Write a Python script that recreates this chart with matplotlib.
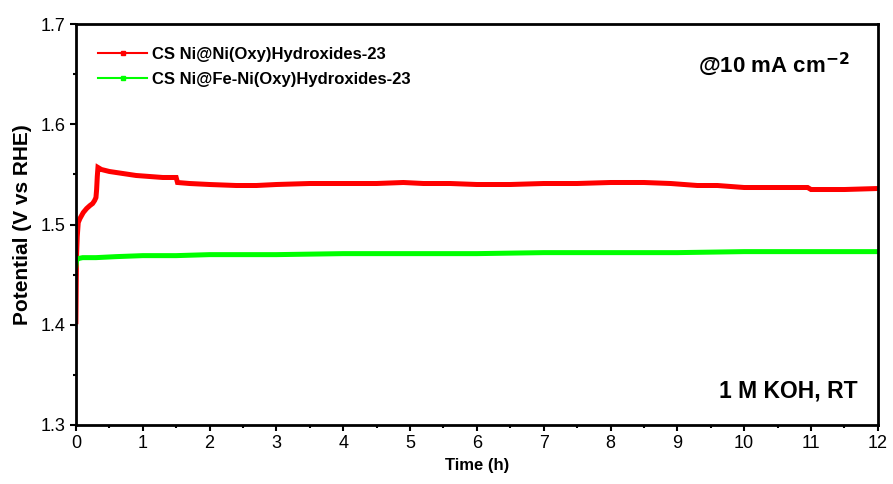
import matplotlib.pyplot as plt
from matplotlib.lines import Line2D
from matplotlib.ticker import MultipleLocator

plt.rcParams["font.family"] = ["Liberation Sans", "DejaVu Sans"]

# chronopotentiometry at 10 mA cm-2, time in hours, potential in V vs RHE
t_ni = [0.0, 0.005, 0.01, 0.02, 0.035, 0.06, 0.11, 0.16, 0.21, 0.25, 0.28, 0.30,
        0.31, 0.32, 0.33, 0.38, 0.5, 0.7, 0.9, 1.1, 1.3, 1.50, 1.52, 1.7, 2.0,
        2.4, 2.7, 3.0, 3.5, 4.0, 4.5, 4.9, 5.2, 5.6, 6.0, 6.5, 7.0, 7.5, 8.0,
        8.5, 8.9, 9.3, 9.6, 10.0, 10.4, 10.8, 10.95, 11.0, 11.5, 12.0]
v_ni = [1.403, 1.440, 1.470, 1.488, 1.502, 1.506, 1.512, 1.516, 1.519, 1.521, 1.524, 1.527,
        1.535, 1.548, 1.557, 1.555, 1.553, 1.551, 1.549, 1.548, 1.547, 1.547, 1.542, 1.541, 1.540,
        1.539, 1.539, 1.540, 1.541, 1.541, 1.541, 1.542, 1.541, 1.541, 1.540, 1.540, 1.541, 1.541, 1.542,
        1.542, 1.541, 1.539, 1.539, 1.537, 1.537, 1.537, 1.537, 1.535, 1.535, 1.536]

t_feni = [0.0, 0.01, 0.03, 0.1, 0.3, 0.6, 1.0, 1.5, 2.0, 3.0, 4.0, 5.0, 6.0,
          7.0, 8.0, 9.0, 10.0, 11.0, 12.0]
v_feni = [1.459, 1.464, 1.466, 1.467, 1.467, 1.468, 1.469, 1.469, 1.470, 1.470, 1.471, 1.471, 1.471,
          1.472, 1.472, 1.472, 1.473, 1.473, 1.473]

labels = ["CS Ni@Ni(Oxy)Hydroxides-23", "CS Ni@Fe-Ni(Oxy)Hydroxides-23"]
colors = ["#ff0000", "#00ff00"]

fig, ax = plt.subplots(figsize=(8.93, 4.84), dpi=100)
fig.subplots_adjust(left=0.085, right=0.983, top=0.95, bottom=0.122)

ax.plot(t_ni, v_ni, color=colors[0], lw=3.6, solid_joinstyle="miter")
ax.plot(t_feni, v_feni, color=colors[1], lw=3.6)

ax.set_xlim(0, 12)
ax.set_ylim(1.3, 1.7)
ax.xaxis.set_major_locator(MultipleLocator(1))
ax.xaxis.set_minor_locator(MultipleLocator(0.5))
ax.yaxis.set_major_locator(MultipleLocator(0.1))
ax.yaxis.set_minor_locator(MultipleLocator(0.05))
ax.tick_params(which="both", direction="out", width=1.5, labelsize=13)
ax.tick_params(which="major", length=4)
ax.tick_params(which="minor", length=2.5)
for s in ax.spines.values():
    s.set_linewidth(2)

ax.set_xlabel("Time (h)", fontsize=12, fontweight="bold")
ax.set_ylabel("Potential (V vs RHE)", fontsize=15, fontweight="bold", labelpad=6)

handles = [Line2D([], [], color=c, lw=1.5, marker="s", markersize=3.5) for c in colors]
ax.legend(handles, labels, loc="upper left", frameon=False,
          prop={"weight": "bold", "size": 12}, handlelength=2.9, handletextpad=0.3,
          borderaxespad=0.3, borderpad=1.05, labelspacing=0.6)

ax.text(0.965, 0.9, r"@10 mA cm$^{\mathbf{-2}}$", transform=ax.transAxes,
        ha="right", va="center", fontsize=16, fontweight="bold")
ax.text(0.975, 0.085, "1 M KOH, RT", transform=ax.transAxes,
        ha="right", va="center", fontsize=16.5, fontweight="bold")

fig.savefig("out.png", dpi=100)
